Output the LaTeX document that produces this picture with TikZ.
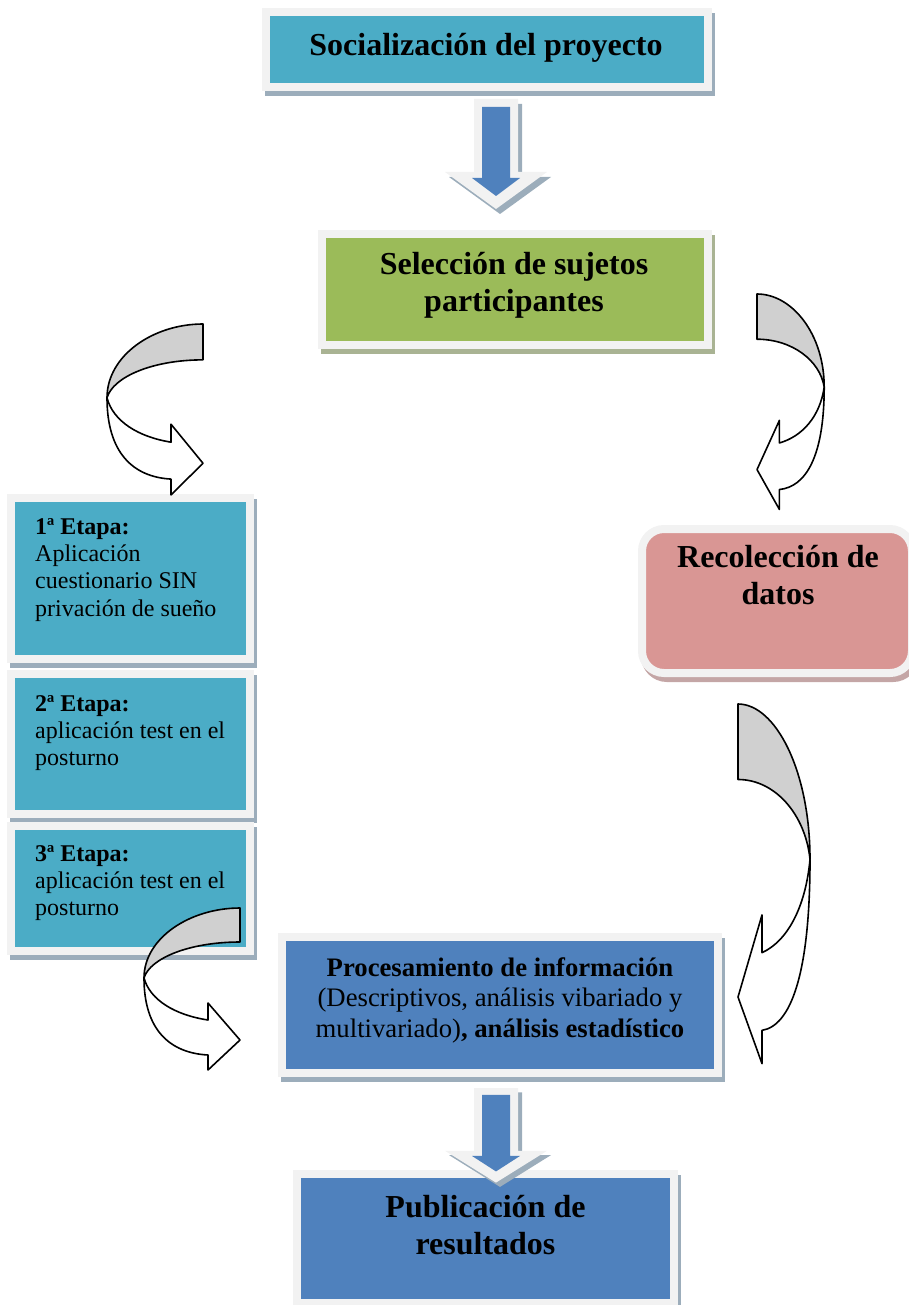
\documentclass[tikz,border=0pt]{standalone}
\usepackage{fontspec}
\setmainfont{Liberation Serif}
\usetikzlibrary{calc}
\definecolor{aqua}{HTML}{4BACC6}
\definecolor{verde}{HTML}{9BBB59}
\definecolor{rosa}{HTML}{D99694}
\definecolor{azul}{HTML}{4F81BD}
\definecolor{marco}{HTML}{F2F2F2}
\definecolor{gris}{HTML}{D0D0D0}
\definecolor{sombraazul}{HTML}{9CADBB}
\definecolor{sombraverde}{HTML}{A9B393}
\definecolor{sombrarosa}{HTML}{C4A6A6}

\begin{document}
\begin{tikzpicture}[x=1pt,y=-1pt,
    caja/.style={draw=marco,line width=8pt,inner sep=0pt,
      preaction={draw=#1,fill=#1,transform canvas={xshift=3pt,yshift=-5pt}}},
    titulo/.style={font=\fontsize{32}{37.5}\selectfont\bfseries,align=center,
      anchor=north,inner sep=0pt},
    etapa/.style={font=\fontsize{24}{27.3}\selectfont,align=left,
      anchor=north west,inner sep=0pt},
    pics/bloque/.style={code={
      \fill[sombraazul,shift={(4,5)}] (-22,0) -- (22,0) -- (22,73) -- (51,73)
        -- (0,110) -- (-51,73) -- (-22,73) -- cycle;
      \fill[marco] (-22,0) -- (22,0) -- (22,73) -- (51,73) -- (0,110)
        -- (-51,73) -- (-22,73) -- cycle;
      \fill[azul] (-14,8) -- (14,8) -- (14,79) -- (24,79) -- (0,97)
        -- (-24,79) -- (-14,79) -- cycle;}},
    pics/curva/.style={code={
      \filldraw[fill=gris,line width=1.6pt,line join=round] (0,0)
        .. controls (-50,0) and (-96,30) .. (-96,70)
        .. controls (-90,50) and (-50,34) .. (0,34) -- cycle;
      \filldraw[fill=white,line width=1.6pt,line join=round] (-96,70)
        .. controls (-96,122) and (-70,145) .. (-32,147) -- (-32,162)
        -- (0,132) -- (-32,95) -- (-32,112)
        .. controls (-65,107) and (-90,92) .. (-96,70) -- cycle;}}]
  \useasboundingbox (0,0) rectangle (908,1305);
  % cajas
  \node[caja=sombraazul,fill=aqua,minimum width=442,minimum height=75] (soc) at (487,49.5) {};
  \node[caja=sombraverde,fill=verde,minimum width=386,minimum height=111] (sel) at (515,289.5) {};
  \node[caja=sombrarosa,fill=rosa,rounded corners=22pt,minimum width=270,
    minimum height=144] (datos) at (777,601) {};
  \foreach \nom/\yc/\alto in {e1/578.5/161,e2/744/140,e3/888.5/125}
    \node[caja=sombraazul,fill=aqua,minimum width=239,minimum height=\alto] (\nom) at (130.5,\yc) {};
  \node[caja=sombraazul,fill=azul,minimum width=436,minimum height=136] (proc) at (500,1005) {};
  \node[caja=sombraazul,fill=azul,minimum width=377,minimum height=129] (pub) at (485.5,1238.5) {};
  % textos
  \node[titulo] (tsoc) at (486,33) {Socialización del proyecto};
  \node[titulo] (tsel) at (514,252) {Selección de sujetos\\participantes};
  \node[titulo] (tdatos) at (778,545) {Recolección de\\datos};
  \node[titulo] (tpub) at (485.5,1195) {Publicación de\\resultados};
  \node[titulo,font=\fontsize{26.7}{30.5}\selectfont] (tproc) at (500,957)
    {\textbf{Procesamiento de información}\\(Descriptivos, análisis vibariado y\\
     multivariado)\textbf{, análisis estadístico}};
  \node[etapa] (te1) at (35,518) {\textbf{1ª Etapa:}\\Aplicación\\cuestionario SIN\\privación de sueño};
  \node[etapa] (te2) at (35,695) {\textbf{2ª Etapa:}\\aplicación test en el\\posturno};
  \node[etapa] (te3) at (35,845) {\textbf{3ª Etapa:}\\aplicación test en el\\posturno};
  % flechas
  \pic at ($(soc.south)+(9,8)$) {bloque};
  \pic[yscale=0.86] at ($(proc.south)+(-4,11)$) {bloque};
  \pic[yscale=1.055] at (203,324) {curva};
  \pic[xscale=-0.7,yscale=1.33] at (757,294) {curva};
  \pic[xscale=-0.75,yscale=2.22] at (738,704) {curva};
  \pic at (240,908) {curva};
\end{tikzpicture}
\end{document}
